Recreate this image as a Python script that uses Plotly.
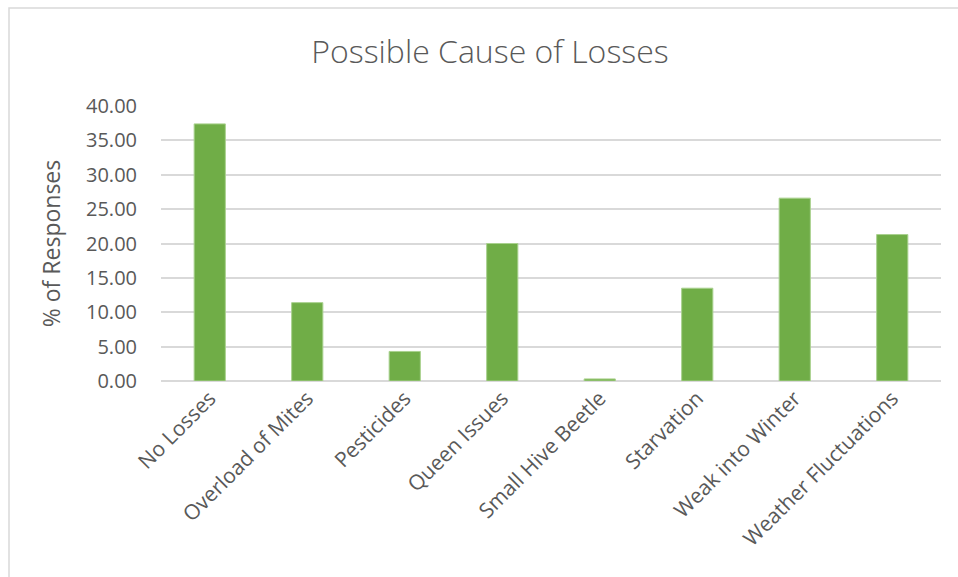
import plotly.graph_objects as go

categories = ["No Losses", "Overload of Mites", "Pesticides", "Queen Issues",
              "Small Hive Beetle", "Starvation", "Weak into Winter",
              "Weather Fluctuations"]
pct_responses = [37.4, 11.4, 4.3, 20.0, 0.3, 13.5, 26.6, 21.3]
y_ticks = [0, 5, 10, 15, 20, 25, 30, 35, 40]

W, H = 958, 577
ML, MR, MT, MB = 161, 17, 106, 196

fig = go.Figure(go.Bar(
    x=categories,
    y=pct_responses,
    marker=dict(color="#70AD47", line=dict(color="#A9D18E", width=1)),
))

# chart frame, expressed in plot-area paper coordinates
pw, ph = W - ML - MR, H - MT - MB
def px_x(p):
    return (p - ML) / pw
def px_y(p):
    return (H - MB - p) / ph

fig.add_shape(type="rect", xref="paper", yref="paper",
              x0=px_x(9), x1=px_x(970), y0=px_y(600), y1=px_y(8),
              line=dict(color="#D9D9D9", width=1.5), layer="below")

fig.update_layout(
    width=W, height=H,
    margin=dict(l=ML, r=MR, t=MT, b=MB),
    paper_bgcolor="white", plot_bgcolor="white",
    bargap=0.68,
    showlegend=False,
    title=dict(text="Possible Cause of Losses", x=490 / W, xref="container",
               xanchor="center", y=1 - 52 / H, yanchor="middle",
               font=dict(family="Open Sans", size=32, weight=300,
                         color="#595959")),
    font=dict(family="Open Sans", color="#595959"),
    xaxis=dict(tickangle=-45, tickfont=dict(size=21, color="#595959"),
               showgrid=False, showline=False, ticks=""),
    yaxis=dict(range=[0, 40], tickvals=y_ticks, tickformat=".2f",
               tickfont=dict(size=20, color="#595959"),
               showgrid=True, gridcolor="#D9D9D9", gridwidth=1.5,
               zeroline=True, zerolinecolor="#D9D9D9", zerolinewidth=1.5,
               ticks="", ticklabelstandoff=23,
               title=dict(text="% of Responses", standoff=18,
                          font=dict(size=23, color="#595959"))),
)

fig.write_html("out.html")
